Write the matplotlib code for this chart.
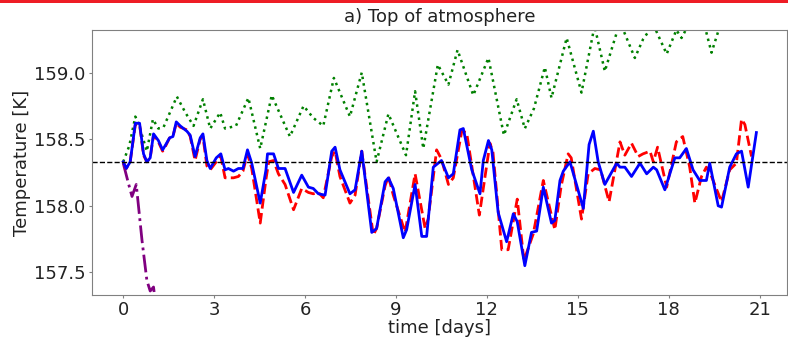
import matplotlib
matplotlib.use("Agg")
import matplotlib.pyplot as plt
from matplotlib.patches import Rectangle

# blue solid run
t_blue = [0.00, 0.10, 0.23, 0.40, 0.54, 0.67, 0.78, 0.89, 1.00, 1.16, 1.30, 1.38, 1.53, 1.64,
          1.75, 1.88, 2.10, 2.21, 2.37, 2.54, 2.63, 2.76, 2.87, 3.07, 3.22, 3.36, 3.47, 3.64,
          3.80, 3.95, 4.10, 4.24, 4.52, 4.71, 4.76, 4.96, 5.12, 5.34, 5.62, 5.89, 6.11, 6.27,
          6.44, 6.66, 6.88, 6.99, 7.15, 7.48, 7.65, 7.87, 8.20, 8.36, 8.64, 8.75, 8.91, 9.24,
          9.35, 9.63, 9.85, 10.01, 10.23, 10.50, 10.73, 10.89, 11.11, 11.22, 11.50, 11.77, 11.88,
          12.05, 12.16, 12.37, 12.65, 12.87, 13.00, 13.25, 13.47, 13.64, 13.86, 14.13, 14.24,
          14.41, 14.52, 14.74, 15.18, 15.37, 15.51, 15.67, 15.89, 16.28, 16.39, 16.55, 16.77,
          17.05, 17.27, 17.49, 17.60, 17.87, 18.20, 18.36, 18.58, 18.80, 19.02, 19.24, 19.35,
          19.63, 19.74, 20.01, 20.23, 20.40, 20.62, 20.89]
T_blue = [158.33, 158.28, 158.33, 158.62, 158.62, 158.39, 158.33, 158.36, 158.54, 158.49, 158.42,
          158.45, 158.51, 158.52, 158.63, 158.60, 158.56, 158.53, 158.37, 158.51, 158.54, 158.34,
          158.28, 158.36, 158.39, 158.27, 158.28, 158.26, 158.28, 158.28, 158.42, 158.32, 158.02,
          158.27, 158.39, 158.39, 158.28, 158.28, 158.10, 158.23, 158.14, 158.13, 158.09, 158.08,
          158.41, 158.44, 158.27, 158.09, 158.12, 158.41, 157.80, 157.83, 158.18, 158.21, 158.13,
          157.76, 157.82, 158.16, 157.77, 157.77, 158.29, 158.34, 158.21, 158.24, 158.57, 158.58,
          158.27, 158.09, 158.34, 158.49, 158.42, 157.95, 157.73, 157.94, 157.88, 157.55, 157.80,
          157.81, 158.14, 157.87, 157.89, 158.19, 158.26, 158.33, 157.98, 158.46, 158.56, 158.33,
          158.16, 158.32, 158.29, 158.29, 158.22, 158.32, 158.24, 158.29, 158.27, 158.12, 158.36,
          158.36, 158.43, 158.27, 158.19, 158.19, 158.32, 158.00, 157.99, 158.29, 158.39, 158.41,
          158.14, 158.55]

# red dashed run
t_red = [0.00, 0.10, 0.23, 0.40, 0.54, 0.67, 0.78, 0.89, 1.00, 1.16, 1.30, 1.38, 1.53, 1.64,
         1.75, 1.88, 2.10, 2.21, 2.37, 2.54, 2.63, 2.76, 2.87, 3.07, 3.22, 3.36, 3.64, 3.80,
         3.95, 4.10, 4.24, 4.52, 4.71, 4.80, 4.96, 5.12, 5.34, 5.62, 5.89, 6.11, 6.27, 6.44,
         6.60, 6.88, 6.99, 7.15, 7.48, 7.65, 7.87, 8.25, 8.36, 8.64, 8.75, 8.91, 9.30, 9.63,
         9.96, 10.06, 10.34, 10.50, 10.73, 10.89, 11.17, 11.33, 11.75, 12.10, 12.20, 12.49,
         12.70, 13.00, 13.22, 13.53, 13.86, 14.24, 14.45, 14.68, 14.78, 15.12, 15.34, 15.56,
         15.75, 16.03, 16.39, 16.55, 16.77, 16.99, 17.15, 17.38, 17.49, 17.63, 17.93, 18.25,
         18.46, 18.69, 18.86, 19.08, 19.24, 19.41, 19.74, 20.01, 20.23, 20.40, 20.51, 20.73]
T_red = [158.33, 158.28, 158.33, 158.61, 158.61, 158.38, 158.33, 158.36, 158.53, 158.48, 158.41,
         158.44, 158.51, 158.52, 158.62, 158.59, 158.57, 158.52, 158.34, 158.50, 158.52, 158.30,
         158.27, 158.33, 158.37, 158.21, 158.21, 158.22, 158.26, 158.39, 158.28, 157.87, 158.20,
         158.33, 158.34, 158.24, 158.16, 157.97, 158.13, 158.10, 158.09, 158.10, 158.06, 158.37,
         158.41, 158.22, 158.02, 158.08, 158.41, 157.78, 157.83, 158.15, 158.22, 158.08, 157.80,
         158.24, 157.83, 157.90, 158.42, 158.35, 158.16, 158.21, 158.56, 158.55, 157.93, 158.47,
         158.40, 157.67, 157.67, 158.05, 157.59, 157.79, 158.19, 157.82, 158.15, 158.39, 158.36,
         157.90, 158.24, 158.28, 158.27, 158.03, 158.48, 158.38, 158.47, 158.37, 158.39, 158.41,
         158.33, 158.44, 158.14, 158.48, 158.52, 158.29, 158.02, 158.22, 158.29, 158.22, 158.03,
         158.27, 158.32, 158.65, 158.61, 158.37]

# green dotted run (runs off the top of the axes late on)
t_green = [0.00, 0.20, 0.40, 0.50, 0.78, 0.98, 1.16, 1.33, 1.77, 2.05, 2.32, 2.63, 2.87, 3.20,
           3.36, 3.72, 4.13, 4.52, 4.90, 5.50, 5.95, 6.27, 6.60, 6.95, 7.48, 7.87, 8.36, 8.75,
           9.33, 9.63, 9.90, 10.38, 10.73, 11.03, 11.55, 12.05, 12.56, 12.98, 13.25, 13.55,
           13.91, 14.13, 14.63, 15.12, 15.55, 15.89, 16.39, 16.88, 17.15, 17.49, 17.93, 18.25,
           18.42, 18.70, 18.91, 19.15, 19.41, 19.70]
T_green = [158.33, 158.45, 158.67, 158.62, 158.41, 158.65, 158.58, 158.59, 158.82, 158.70,
           158.60, 158.80, 158.58, 158.70, 158.58, 158.60, 158.81, 158.43, 158.83, 158.52,
           158.75, 158.66, 158.60, 158.96, 158.67, 159.00, 158.33, 158.69, 158.38, 158.86,
           158.43, 159.06, 158.91, 159.17, 158.83, 159.11, 158.53, 158.80, 158.58, 158.73,
           159.04, 158.81, 159.26, 158.85, 159.35, 159.01, 159.38, 159.11, 159.25, 159.36,
           159.14, 159.32, 159.26, 159.38, 159.31, 159.38, 159.15, 159.36]

# purple dash-dot run (drops out of view after a day)
t_purple = [0.00, 0.17, 0.29, 0.43, 0.62, 0.78, 0.89, 1.00, 1.10]
T_purple = [158.32, 158.17, 158.07, 158.16, 157.74, 157.44, 157.36, 157.39, 157.20]

T_ref = 158.33
xticks = [0, 3, 6, 9, 12, 15, 18, 21]
yticks = [157.5, 158.0, 158.5, 159.0]

fig = plt.figure(figsize=(7.88, 3.38), dpi=100)
fig.add_artist(Rectangle((0, 0.991), 1, 0.009, transform=fig.transFigure,
                         color="#ee1c25", lw=0))
ax = fig.add_axes([92 / 788, 43 / 338, 695 / 788, 265 / 338])

ax.plot(t_green, T_green, color="green", ls=":", lw=1.8)
ax.plot(t_purple, T_purple, color="purple", ls="-.", lw=2)
ax.plot(t_red, T_red, color="red", ls="--", lw=2)
ax.plot(t_blue, T_blue, color="blue", lw=2)
ax.axhline(T_ref, color="black", ls="--", lw=1)

ax.set_xlim(-1.03, 21.9)
ax.set_ylim(157.33, 159.32)
ax.set_xticks(xticks)
ax.set_yticks(yticks)
ax.tick_params(labelsize=13, color="gray", labelcolor="#222222", length=2.5, pad=2)
for spine in ax.spines.values():
    spine.set_color("gray")

ax.set_title("a) Top of atmosphere", fontsize=13, color="#222222")
ax.set_xlabel("time [days]", fontsize=13, color="#222222", labelpad=0)
ax.set_ylabel("Temperature [K]", fontsize=13, color="#222222", labelpad=2)

fig.savefig("out.png", dpi=100)
